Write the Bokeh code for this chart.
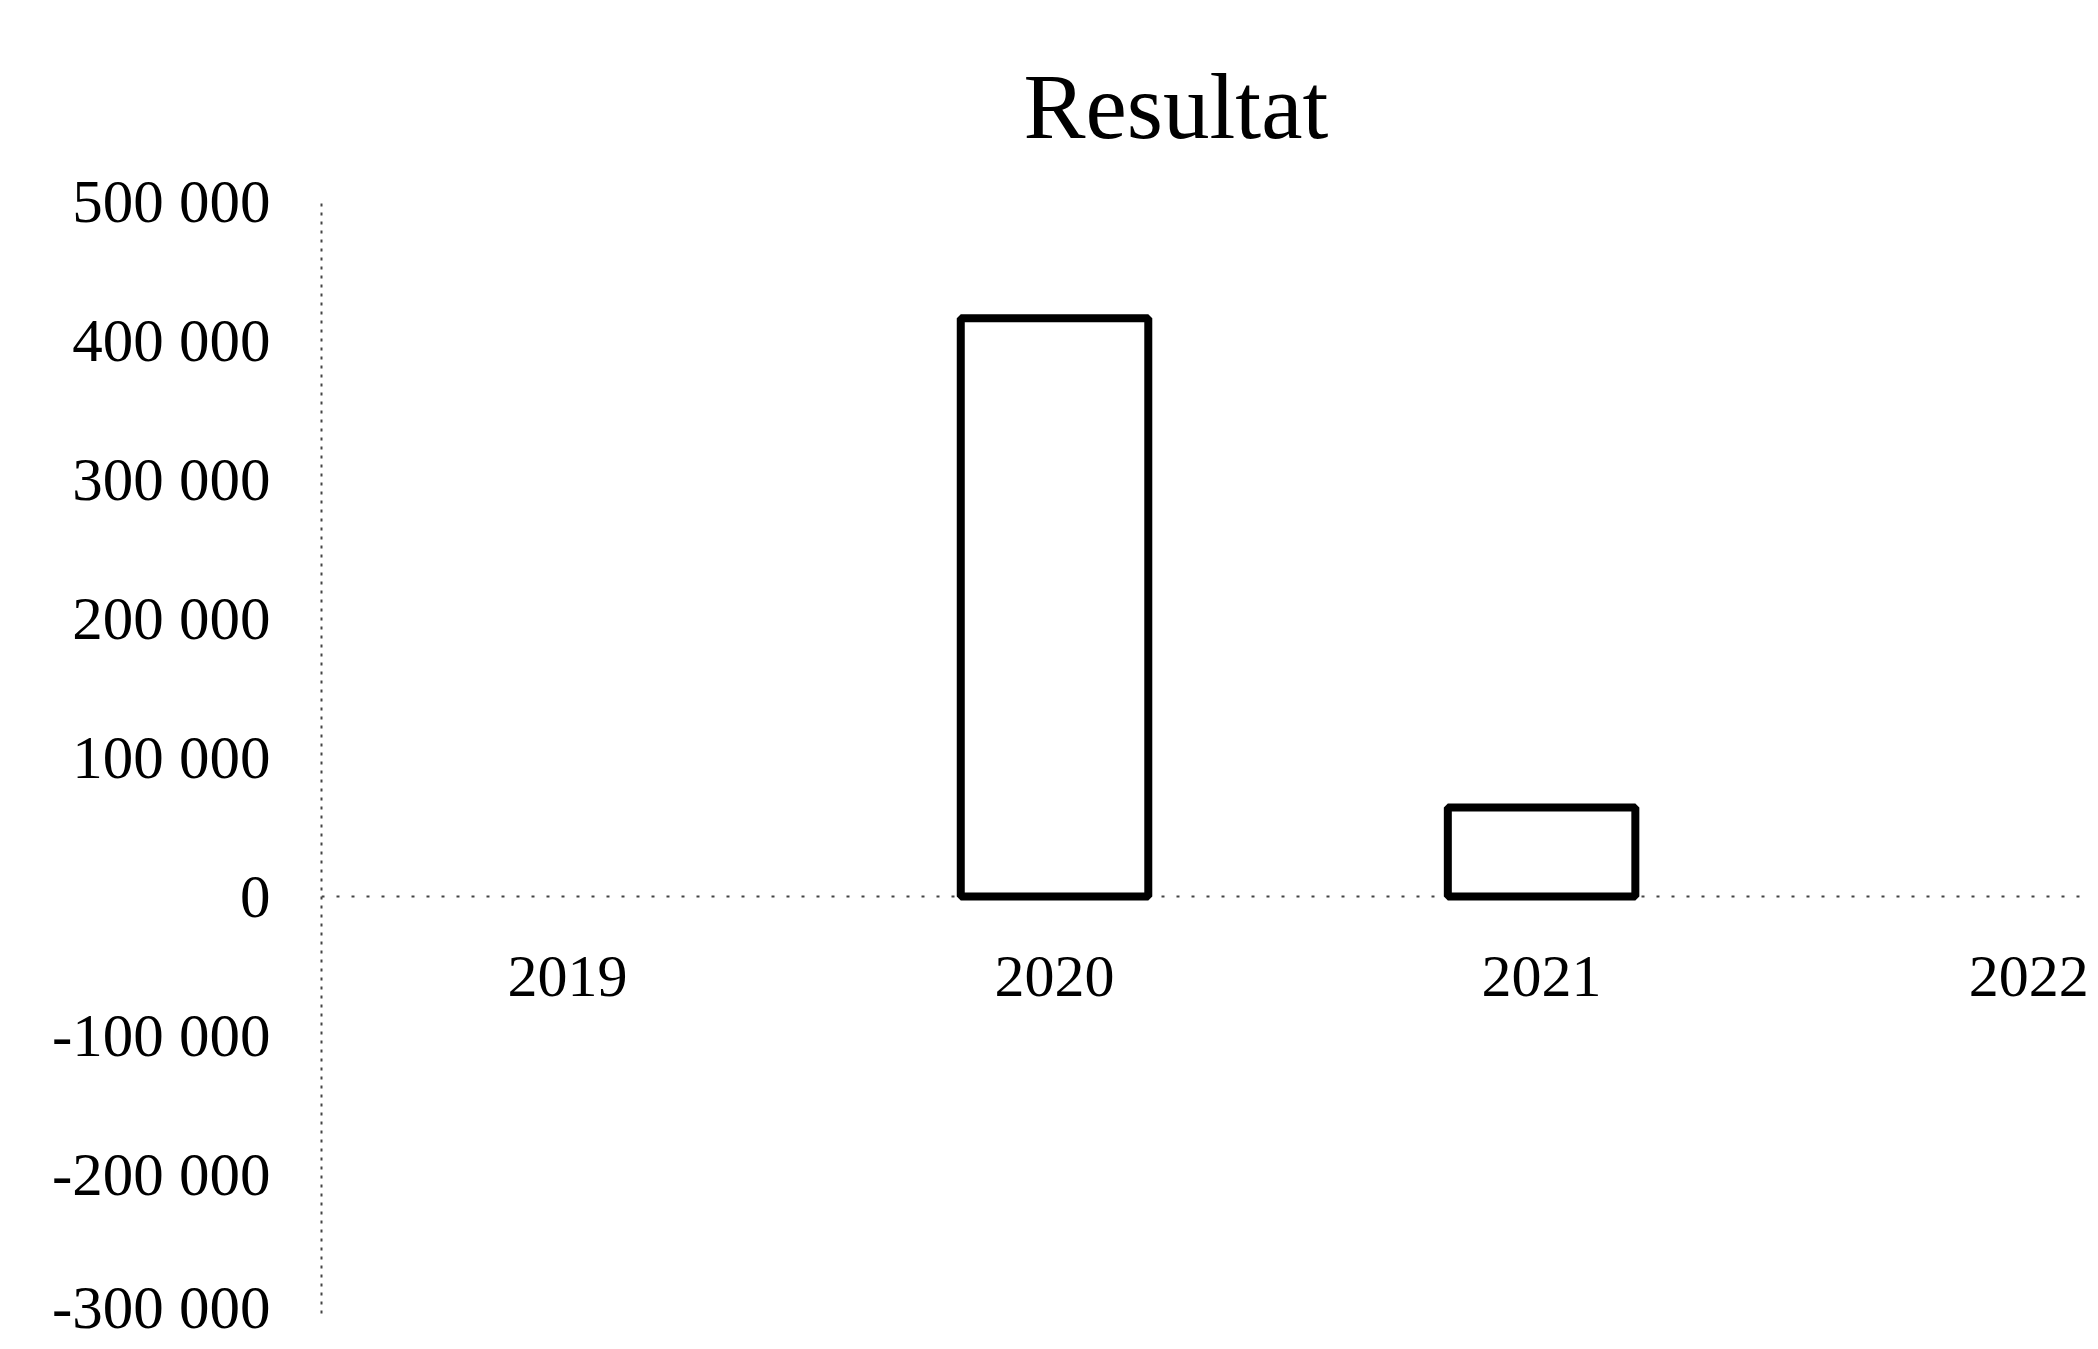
from bokeh.plotting import figure
from bokeh.models import Range1d, FixedTicker, Span, ColumnDataSource, Title
from bokeh.core.properties import value
from bokeh.embed import file_html
from bokeh.resources import INLINE

# ---- data ----
title = "Resultat"
categories = ["2019", "2020", "2021", "2022"]
resultat = [None, 416000, 64000, None]
y_ticks = [-300000, -200000, -100000, 0, 100000, 200000, 300000, 400000, 500000]

FONT = "Liberation Serif"

pos = list(range(len(categories)))
src = ColumnDataSource(dict(
    x=pos,
    cat=categories,
    top=[float("nan") if v is None else v for v in resultat],
    zero=[0] * len(categories),
))

p = figure(
    width=2090, height=1340,
    output_backend="svg", toolbar_location=None,
    x_range=Range1d(-0.505, 3.127),
    y_range=Range1d(y_ticks[0], y_ticks[-1]),
    x_axis_location=None,
    title_location=None,
    min_border_left=321, min_border_top=201, min_border_right=0, min_border_bottom=27,
)
p.outline_line_color = None
p.grid.visible = False
p.background_fill_color = "white"
p.border_fill_color = "white"

# baseline at zero
p.add_layout(Span(location=0, dimension="width", line_color="#444444",
                  line_width=2, line_dash="3 12", level="underlay"))

# bars
p.vbar(x="x", top="top", bottom=0, width=0.385, source=src,
       fill_color="white", line_color="black", line_width=8)

# category labels below the zero line
p.text(x="x", y="zero", text="cat", source=src,
       text_font=value(FONT), text_font_size="60px", text_color="black",
       text_align="center", text_baseline="middle", y_offset=80)

# y axis
ya = p.yaxis[0]
ya.ticker = FixedTicker(ticks=y_ticks)
ya.major_label_overrides = {t: f"{t:,}".replace(",", " ") for t in y_ticks}
ya.major_label_text_font = FONT
ya.major_label_text_font_size = "61px"
ya.major_label_text_color = "black"
ya.major_label_standoff = 51
ya.major_tick_in = 0
ya.major_tick_out = 0
ya.minor_tick_line_color = None
ya.major_tick_line_color = None
ya.axis_line_color = "#444444"
ya.axis_line_width = 2
ya.axis_line_dash = "3 6"

# title
t = Title(text=title, text_font=FONT, text_font_size="93px",
          text_font_style="normal", text_color="black",
          align="left", offset=702, standoff=88)
p.add_layout(t, "above")

open("out.html", "w").write(file_html(p, INLINE))
